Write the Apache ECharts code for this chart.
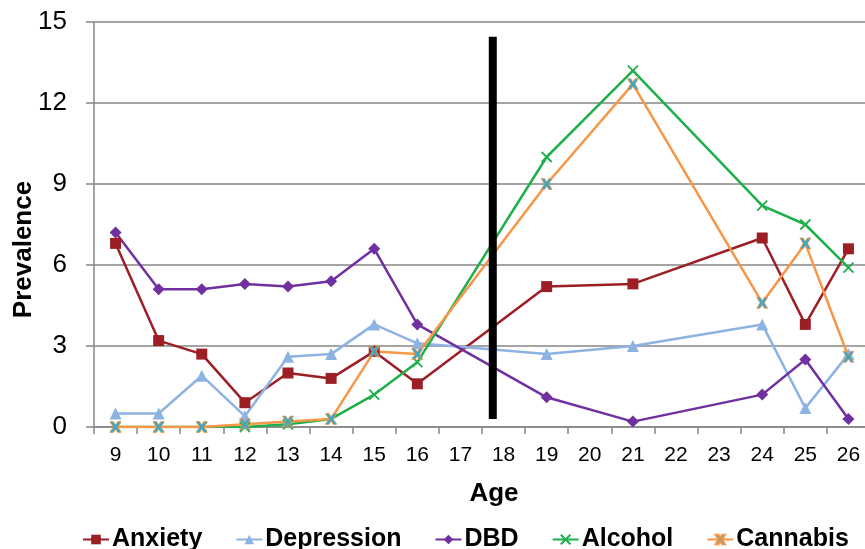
<!DOCTYPE html>
<html>
<head>
<meta charset="utf-8">
<script src="https://cdn.jsdelivr.net/npm/echarts@6/dist/echarts.min.js"></script>
<style>
  html, body { margin: 0; padding: 0; background: #fff; }
  #chart { width: 865px; height: 549px; }
</style>
</head>
<body>
<div id="chart"></div>
<script>
// ages on the category axis
const ages = ['9', '10', '11', '12', '13', '14', '15', '16', '17', '18', '19', '20', '21', '22', '23', '24', '25', '26']

// prevalence by age (null = no measurement at that age)
const anxiety    = [6.8, 3.2, 2.7, 0.9, 2.0, 1.8, 2.8, 1.6, null, null, 5.2, null, 5.3, null, null, 7.0, 3.8, 6.6]
const depression = [0.5, 0.5, 1.9, 0.4, 2.6, 2.7, 3.8, 3.1, null, null, 2.7, null, 3.0, null, null, 3.8, 0.7, 2.7]
const dbd        = [7.2, 5.1, 5.1, 5.3, 5.2, 5.4, 6.6, 3.8, null, null, 1.1, null, 0.2, null, null, 1.2, 2.5, 0.3]
const alcohol    = [0, 0, 0, 0.0, 0.1, 0.3, 1.2, 2.4, null, null, 10.0, null, 13.2, null, null, 8.2, 7.5, 5.9]
const cannabis   = [0, 0, 0, 0.1, 0.2, 0.3, 2.8, 2.7, null, null, 9.0, null, 12.7, null, null, 4.6, 6.8, 2.6]

// the thick black divider (age position and its vertical extent)
const cutoffAge = 17.75
const cutoffRange = [0.3, 14.45]

const yTicks = { min: 0, max: 15, interval: 3 }

const FONT = 'Liberation Sans, Arial, sans-serif'
const xMark = 'path://M0,0L10,10M10,0L0,10'
const xStar = 'path://M0,0L3,0L5,3L7,0L10,0L7,5L10,10L7,10L5,7L3,10L0,10L3,5Z'

function lineSeries(name, data, color, symbol, size, extra) {
  return Object.assign({
    name: name,
    type: 'line',
    data: data,
    connectNulls: true,
    symbol: symbol,
    symbolSize: size,
    lineStyle: { color: color, width: 2.5 },
    itemStyle: { color: color },
    emphasis: { disabled: true },
    animation: false
  }, extra || {})
}

const chart = echarts.init(document.getElementById('chart'))

chart.setOption({
  backgroundColor: '#fff',
  textStyle: { fontFamily: FONT },
  grid: { left: 94, top: 22, width: 776, height: 405, outerBoundsMode: 'none', containLabel: false },
  legend: {
    data: ['Anxiety', 'Depression', 'DBD', 'Alcohol', 'Cannabis'],
    left: 77,
    top: 522,
    width: 820,
    itemWidth: 26,
    itemHeight: 12,
    itemGap: 33,
    textStyle: { fontFamily: FONT, fontSize: 25, fontWeight: 'bold', color: '#000', padding: [0, 0, 0, -2] }
  },
  xAxis: [
    {
      type: 'category',
      data: ages,
      name: 'Age',
      nameLocation: 'middle',
      nameGap: 54,
      nameTextStyle: { fontFamily: FONT, fontSize: 26, fontWeight: 'bold', color: '#000', padding: [0, 0, 0, 24] },
      axisLine: { lineStyle: { color: '#868686', width: 1.5 } },
      axisTick: { show: true, length: 7, lineStyle: { color: '#868686', width: 1.5 } },
      axisLabel: { fontFamily: FONT, fontSize: 21, color: '#000', margin: 18, interval: 0 },
      splitLine: { show: false }
    },
    {
      type: 'value',
      min: 8.5,
      max: 26.5,
      show: false
    }
  ],
  yAxis: {
    type: 'value',
    min: yTicks.min,
    max: yTicks.max,
    interval: yTicks.interval,
    name: 'Prevalence',
    nameLocation: 'middle',
    nameGap: 57,
    nameMoveOverlap: false,
    nameRotate: 90,
    nameTextStyle: { fontFamily: FONT, fontSize: 26, fontWeight: 'bold', color: '#000', padding: [0, 50, 0, 0] },
    axisLine: { show: true, lineStyle: { color: '#868686', width: 1.5 } },
    axisTick: { show: true, length: 8, lineStyle: { color: '#868686', width: 1.5 } },
    axisLabel: { fontFamily: FONT, fontSize: 26, color: '#000', margin: 27 },
    splitLine: { lineStyle: { color: '#868686', width: 1.5 } }
  },
  series: [
    lineSeries('Anxiety', anxiety, '#9B1F24', 'rect', 11),
    lineSeries('Depression', depression, '#8DB3E2', 'triangle', 12),
    lineSeries('DBD', dbd, '#7030A0', 'diamond', 12),
    lineSeries('Alcohol', alcohol, '#1FAF4B', xMark, 10, {
      itemStyle: { color: 'none', borderColor: '#1FAF4B', borderWidth: 1.8 }
    }),
    lineSeries('Cannabis', cannabis, '#F79646', xStar, 11, {
      itemStyle: { color: '#3DA8C4', borderColor: '#F79646', borderWidth: 0.8 }
    }),
    {
      name: 'cutoff',
      type: 'line',
      xAxisIndex: 1,
      data: [[cutoffAge, cutoffRange[0]], [cutoffAge, cutoffRange[1]]],
      symbol: 'none',
      lineStyle: { color: '#000', width: 8, cap: 'butt' },
      z: 5,
      silent: true,
      animation: false
    }
  ]
})
</script>
</body>
</html>
